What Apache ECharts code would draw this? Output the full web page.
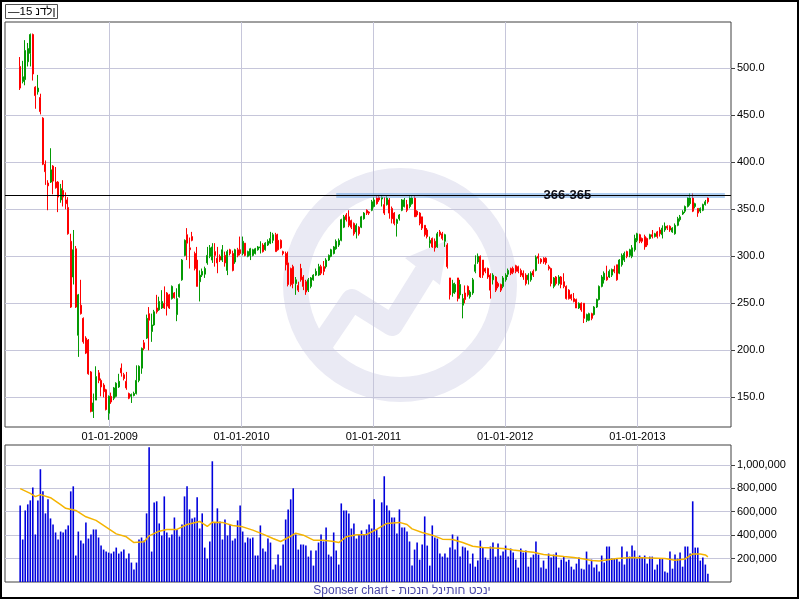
<!DOCTYPE html>
<html><head><meta charset="utf-8">
<script src="https://cdn.jsdelivr.net/npm/echarts@6/dist/echarts.min.js"></script>
<style>html,body{margin:0;padding:0;background:#fff}#c{width:800px;height:600px}</style>
</head><body><div id="c"></div>
<script>
// ---- data (weekly candles) ----
const firstWeek = [2008, 3, 28];          // first candle: 28-04-2008, one candle per week
const opens = [502,486,488,507,516,536,480,475,469,447,398,378,379,396,379,379,360,370,360,352,
316,278,308,216,248,234,213,211,177,135,147,176,168,163,158,133,151,149,151,161,
181,174,167,154,151,152,154,168,181,208,213,239,220,227,245,243,245,250,261,259,
255,261,238,257,275,301,323,309,321,303,296,273,280,281,293,300,296,305,298,300,
296,301,285,307,303,294,307,307,303,314,300,301,301,303,307,309,312,307,312,314,
317,323,317,317,305,303,293,287,289,271,269,287,278,273,264,268,275,280,280,289,
289,289,296,300,303,308,312,317,331,344,342,338,335,326,331,331,340,349,347,349,
353,362,363,361,355,355,360,351,346,335,340,349,353,355,353,356,362,348,346,342,
333,328,314,319,316,310,326,324,316,312,277,261,262,277,259,248,261,268,257,261,
284,294,300,296,287,287,280,275,278,271,270,268,275,281,287,287,290,289,285,282,
280,275,275,284,285,300,297,298,298,289,287,268,278,271,278,273,268,264,259,255,
254,245,250,250,232,232,239,238,246,254,268,275,278,278,280,286,291,282,291,296,
305,301,300,307,317,323,319,321,319,319,323,321,326,328,323,328,332,332,326,324,
333,339,345,348,353,356,362,353,351,348,349,355,362];
const highs = [512,508,530,527,537,537,481,493,473,448,402,381,415,397,395,380,377,381,368,363,
324,328,311,260,275,235,215,212,178,154,183,179,170,165,159,152,155,161,166,175,
186,176,177,155,154,156,184,184,203,211,238,246,239,243,259,257,264,268,262,260,
269,262,266,271,297,318,330,320,326,305,310,285,287,289,310,312,314,314,310,302,
312,305,307,308,306,308,309,321,321,314,306,309,308,309,311,316,314,315,318,326,
325,325,324,318,306,305,305,288,291,278,273,292,280,275,277,278,281,287,292,291,
295,298,302,308,311,318,319,340,344,346,349,339,336,335,332,343,347,350,348,360,
363,364,364,364,363,364,362,353,347,340,345,361,362,360,364,364,364,349,347,342,
333,330,321,320,319,326,328,326,324,314,277,275,272,277,275,260,269,269,264,277,
301,303,301,296,288,288,282,282,279,273,271,279,282,287,288,289,291,290,287,285,
282,282,284,286,301,303,298,299,299,291,288,278,279,280,279,282,269,265,260,261,
255,251,251,250,239,240,240,247,255,269,280,284,290,286,287,290,291,297,303,305,
306,308,312,323,325,324,320,323,320,324,328,325,327,331,333,336,333,333,331,335,
342,344,349,354,363,367,367,357,351,352,356,360,363];
const lows = [477,484,482,502,502,487,457,472,451,397,376,349,378,366,372,347,357,353,350,323,
245,270,245,193,238,207,196,174,134,128,147,165,151,150,136,126,143,147,150,160,
172,168,158,148,144,151,153,166,175,200,212,200,209,226,239,242,244,244,237,244,
254,255,231,256,274,300,296,287,316,285,268,252,278,277,291,298,293,289,282,294,
294,289,280,301,284,292,299,301,301,300,299,296,300,302,306,303,304,306,311,313,
314,305,306,308,301,285,268,268,266,259,262,273,264,259,262,266,274,279,279,280,
280,287,295,299,302,307,310,316,330,337,331,329,322,319,322,330,339,344,344,348,
352,355,358,353,344,354,340,335,333,321,338,348,352,347,351,355,342,342,333,328,
321,319,309,309,305,309,321,317,310,287,254,257,260,252,255,234,250,257,255,259,
282,292,277,277,282,276,255,270,262,266,262,266,273,278,280,281,282,282,278,275,
269,270,273,278,284,292,292,292,291,285,268,266,269,269,266,266,254,254,253,251,
245,244,241,229,230,231,232,237,245,253,267,271,274,277,278,282,274,281,289,294,
298,299,298,305,315,314,314,307,310,318,319,320,319,321,319,326,328,326,325,323,
332,337,344,346,352,354,347,351,342,346,348,354,356];
const closes = [479,491,519,521,536,494,471,479,454,398,390,375,392,380,373,363,372,363,356,324,
246,307,246,259,239,209,197,175,135,144,172,168,161,156,137,151,145,160,165,167,
176,170,160,149,153,154,168,183,202,202,234,232,227,241,241,252,252,245,247,245,
268,256,255,270,296,317,314,307,317,287,268,280,284,287,301,309,310,301,293,296,
307,293,305,303,285,307,301,303,316,301,305,308,307,308,310,310,305,314,316,319,
323,305,307,309,303,291,270,270,271,275,264,275,268,262,275,277,280,284,289,282,
284,296,301,307,310,316,317,339,342,339,333,331,324,333,324,342,346,346,346,358,
360,356,360,363,346,362,346,340,335,339,344,360,360,349,362,362,342,344,335,330,
323,321,317,310,309,324,323,319,323,289,259,271,270,255,270,255,254,259,262,275,
291,300,278,280,284,278,264,280,264,268,264,277,280,285,282,283,284,284,280,278,
271,280,282,280,299,298,294,294,293,287,271,277,271,278,270,268,255,255,255,252,
245,250,243,234,238,239,234,246,254,268,278,282,275,284,286,284,275,296,301,303,
300,307,309,319,324,316,316,310,312,323,321,324,321,324,330,332,330,328,330,333,
340,342,347,353,362,362,348,356,346,351,355,358,358];
// weekly volume, thousands of shares
const volumes = [654,363,611,663,697,808,406,697,963,774,586,706,543,491,423,363,431,423,449,483,
774,817,226,431,354,329,509,371,406,449,449,380,311,277,260,251,243,260,294,243,
260,277,200,243,166,106,166,363,380,354,586,1151,260,680,689,500,397,731,423,380,
406,551,449,389,491,731,817,620,543,551,723,457,
586,294,200,346,1031,509,629,517,363,534,397,491,354,371,526,654,431,337,380,371,
380,226,226,483,286,260,371,337,106,149,234,140,320,534,620,706,800,406,277,320,
320,311,217,269,140,269,337,406,346,466,234,217,423,269,149,671,611,611,586,457,
500,371,406,440,406,449,491,457,706,449,380,680,903,654,611,551,551,414,620,
466,466,431,346,140,277,337,191,320,560,311,140,483,380,371,243,217,243,209,294,
406,277,389,217,303,294,269,157,243,131,183,354,294,209,191,303,337,217,329,226,
260,311,217,286,251,191,123,286,251,269,131,209,234,346,234,123,183,114,243,209,
234,251,123,191,217,174,191,131,106,157,209,114,106,260,149,191,123,149,89,
226,166,303,303,200,200,200,174,303,149,260,217,311,269,200,226,209,226,157,217,
217,106,149,200,200,89,80,260,114,234,200,251,131,303,303,243,689,294,294,183,
209,149,71];
// volume moving average, read at these candle numbers (thousands)
const maWeeks = [0,4,6,8,12,16,18,22,26,30,34,38,42,45,49,51,55,58,62,66,
71,74,76,80,84,88,92,96,100,103,107,109,112,116,120,124,126,129,133,137,
141,145,150,153,155,159,163,167,171,175,179,183,187,191,195,199,203,207,211,215,
219,223,226,229,236,242,249,255,259,263,266,269,271,272];
const maValues = [797,757,729,746,720,660,629,611,557,526,469,411,386,337,343,394,434,449,449,491,
517,474,511,509,483,471,443,409,371,346,391,417,400,357,357,346,337,386,403,406,
449,500,509,491,454,423,400,366,363,337,306,294,291,286,274,263,254,234,226,217,
209,197,183,180,200,209,206,200,186,197,240,240,231,214];
// axes / ticks
const tickYears = [2009,2010,2011,2012,2013];
const priceTicks = [150,200,250,300,350,400,450,500];
const volumeTicks = [200000,400000,600000,800000,1000000];
const resistanceLevel = 364.5;
const resistanceLabel = '366-365';
const legendLatin = '\u201415 ';
const legendHebrew = 'נדלן';
const footerLatin = 'Sponser chart - ';
const footerHebrew = 'תוכנה לניתוח טכני';

// ---- build ----
const dates = opens.map((_, i) => new Date(firstWeek[0], firstWeek[1], firstWeek[2] + 7 * i).getTime());
const candleData = dates.map((d, i) => [d, opens[i], closes[i], lows[i], highs[i]]);
const volData = dates.map((d, i) => [d, volumes[i] * 1000]);
const maData = maWeeks.map((w, k) => [dates[w], maValues[k] * 1000]);
const yearTicks = tickYears.map(y => new Date(y, 0, 1).getTime());
const xMin = new Date(2008, 2, 17).getTime();
const xMax = new Date(2013, 8, 17).getTime();
const bandStart = new Date(2010, 8, 20).getTime();
const bandEnd = new Date(2013, 7, 31).getTime();
const labelDate = new Date(2012, 5, 21).getTime();
// the reference lays its Hebrew out letter by letter, left to right: one rich-text token per letter
const letterTokens = s => Array.from(s).map(c => '{t|' + c + '}').join('');
const legendRich = '{t|' + legendLatin + '}' + letterTokens(legendHebrew);
const footerRich = '{t|' + footerLatin + '}' + letterTokens(footerHebrew);

const gridColor = '#c6c6da';
const font = 'Liberation Sans, Arial, sans-serif';
const axisFont = { color: '#000', fontSize: 11, fontFamily: font };

const chart = echarts.init(document.getElementById('c'), null, { renderer: 'canvas' });
chart.setOption({
  animation: false,
  backgroundColor: '#fff',
  grid: [
    { left: 5, top: 22, width: 726, height: 405, show: true, borderColor: '#404040', borderWidth: 1, backgroundColor: 'transparent' },
    { left: 5, top: 445, width: 726, height: 137, show: true, borderColor: '#404040', borderWidth: 1, backgroundColor: 'transparent' }
  ],
  xAxis: [
    { type: 'value', gridIndex: 0, min: xMin, max: xMax, scale: true,
      axisLine: { show: false }, axisTick: { show: false, customValues: yearTicks },
      axisLabel: Object.assign({ customValues: yearTicks, margin: 4, hideOverlap: false,
        formatter: v => '01-01-' + new Date(v).getFullYear() }, axisFont),
      splitLine: { show: true, lineStyle: { color: gridColor, width: 1 } } },
    { type: 'value', gridIndex: 1, min: xMin, max: xMax, scale: true,
      axisLine: { show: false }, axisTick: { show: false, customValues: yearTicks },
      axisLabel: { show: false, customValues: yearTicks },
      splitLine: { show: true, lineStyle: { color: gridColor, width: 1 } } }
  ],
  yAxis: [
    { type: 'value', gridIndex: 0, position: 'right', min: 118.4, max: 549.3, splitNumber: 8,
      axisLine: { show: false },
      axisTick: { show: true, length: 4, customValues: priceTicks, lineStyle: { color: '#404040' } },
      axisLabel: Object.assign({ customValues: priceTicks, margin: 6,
        formatter: v => (Math.abs(v % 50) < 1e-6 ? v.toFixed(1) : '') }, axisFont),
      splitLine: { show: true, lineStyle: { color: gridColor, width: 1 } } },
    { type: 'value', gridIndex: 1, position: 'right', min: 0, max: 1170000, splitNumber: 5,
      axisLine: { show: false },
      axisTick: { show: true, length: 4, customValues: volumeTicks, lineStyle: { color: '#404040' } },
      axisLabel: Object.assign({ customValues: volumeTicks, margin: 6,
        formatter: v => (v > 0 && v % 200000 === 0 ? v.toLocaleString('en-US') : '') }, axisFont),
      splitLine: { show: true, lineStyle: { color: gridColor, width: 1 } } }
  ],
  graphic: { elements: [
    { type: 'ring', z: -10, silent: true, shape: { cx: 400, cy: 285, r: 117, r0: 92 }, style: { fill: '#eaeaf4' } },
    { type: 'polyline', z: -10, silent: true, shape: { points: [[318, 350], [352, 300], [392, 325], [425, 272]] },
      style: { stroke: '#eaeaf4', lineWidth: 22, fill: null, lineJoin: 'round' } },
    { type: 'polygon', z: -10, silent: true, shape: { points: [[405, 258], [448, 240], [440, 285]] }, style: { fill: '#eaeaf4' } },
    { type: 'rect', z: 100, silent: true, shape: { x: 1, y: 1, width: 797, height: 597 }, style: { fill: null, stroke: '#000', lineWidth: 2 } },
    { type: 'rect', z: 100, silent: true, shape: { x: 5.5, y: 4.5, width: 52, height: 14 }, style: { fill: '#fff', stroke: '#505050', lineWidth: 1 } },
    { type: 'text', z: 101, silent: true, style: { text: legendRich, x: 8, y: 12, verticalAlign: 'middle',
        rich: { t: { fontSize: 11.5, fontFamily: font, fill: '#000' } } } },
    { type: 'text', z: 101, silent: true, style: { text: footerRich, x: 402, y: 591, align: 'center', verticalAlign: 'middle',
        rich: { t: { fontSize: 12, fontFamily: font, fill: '#4a48a8' } } } }
  ] },
  series: [
    { type: 'candlestick', xAxisIndex: 0, yAxisIndex: 0, data: candleData, encode: { x: 0, y: [1, 2, 3, 4] },
      barWidth: 1.5, clip: true,
      itemStyle: { color: '#049a04', color0: '#ff0000', borderColor: '#049a04', borderColor0: '#ff0000', borderWidth: 1 },
      markLine: { symbol: 'none', silent: true, animation: false, label: { show: false },
        data: [
          [{ coord: [bandStart, resistanceLevel], lineStyle: { color: 'rgba(110,165,230,0.55)', width: 5, type: 'solid' } },
           { coord: [bandEnd, resistanceLevel] }],
          { yAxis: resistanceLevel, lineStyle: { color: '#000', width: 1, type: 'solid' } }
        ] },
      markPoint: { symbol: 'circle', symbolSize: 0, silent: true, animation: false,
        label: { show: true, position: 'inside', formatter: resistanceLabel, color: '#101018',
          fontSize: 13, fontWeight: 'bold', fontFamily: font },
        data: [{ coord: [labelDate, resistanceLevel], value: 0 }] } },
    { type: 'bar', xAxisIndex: 1, yAxisIndex: 1, data: volData, barWidth: 1.6,
      itemStyle: { color: '#0000dd' } },
    { type: 'line', xAxisIndex: 1, yAxisIndex: 1, data: maData, showSymbol: false, z: 3,
      lineStyle: { color: '#f5b400', width: 1.5 } }
  ]
});
</script></body></html>
